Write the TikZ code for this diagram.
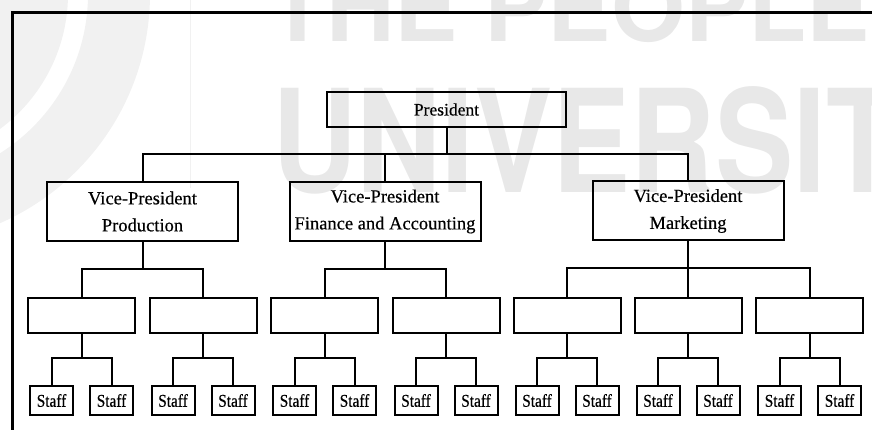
\documentclass[tikz,border=0pt]{standalone}
\usepackage{fontspec}
\setmainfont[FakeBold=0.5]{Liberation Serif}
\newfontfamily\stafffont[FakeStretch=0.85,FakeBold=0.5]{Liberation Serif}
\newfontfamily\wmfont{TeX Gyre Heros}
\definecolor{wmgray}{HTML}{E8E8E8}
\tikzset{
  box/.style={draw, line width=2pt, inner sep=0pt, align=center},
  topbox/.style={box, minimum width=239pt, minimum height=35pt,
    font=\fontsize{17.5}{21}\selectfont},
  vpbox/.style={box, minimum width=191pt, minimum height=59pt,
    font=\fontsize{18.5}{27}\selectfont},
  midbox/.style={box, minimum width=107pt, minimum height=35pt},
  staffbox/.style={box, minimum width=43pt, minimum height=29pt,
    font=\stafffont\fontsize{18}{20}\selectfont},
  link/.style={line width=2pt},
  frame/.style={line width=3pt},
  wmtext/.style={text=wmgray, inner sep=0pt, anchor=base west},
}
\begin{document}
\begin{tikzpicture}[x=1pt,y=-1pt]
\useasboundingbox (0,0) rectangle (872,430);

% background watermark: logo rings, rule and lettering
\begin{scope}
  \clip (0,0) rectangle (872,430);
  \fill[wmgray!60] (-100,-6) circle (168);
  \fill[wmgray!60, even odd rule] (-100,-6) circle (250) (-100,-6) circle (188);
  \draw[wmgray!80!black!20, line width=0.6pt] (190,0) -- (190,188);
  \node[wmtext, font=\wmfont\bfseries\fontsize{95}{95}\selectfont]
    (wmtop) at (268,42) {THE PEOPLE'S};
  \node[wmtext, font=\wmfont\bfseries\fontsize{143}{143}\selectfont]
    (wmbottom) at (272,193) {\scalebox{0.82}[1]{UNIVERSITY}};
\end{scope}

% frame
\draw[frame] (12,432) -- (12,13) -- (874,13);

% top of the hierarchy
\node[topbox] (pres) at (446.5,109.5) {President};
\node[vpbox] (vp1) at (142.5,211.5) {Vice-President\\Production};
\node[vpbox] (vp2) at (385,211.5) {Vice-President\\Finance and Accounting};
\node[vpbox] (vp3) at (688,211) {Vice-President\\Marketing};

\foreach \v in {vp1,vp2,vp3}
  \draw[link] (pres.south) -- ++(0,26) -| (\v.north);

% middle managers with their staff
\foreach \i/\cx in {1/81.5,2/203,3/324.5,4/446,5/567,6/688,7/809.5} {
  \node[midbox] (m\i) at (\cx,315) {};
  \node[staffbox] (sa\i) at ({\cx-30},400.5) {Staff};
  \node[staffbox] (sb\i) at ({\cx+30},400.5) {Staff};
  \draw[link] (m\i.south) -- ++(0,24.5) -| (sa\i.north);
  \draw[link] (m\i.south) -- ++(0,24.5) -| (sb\i.north);
}

\foreach \p/\c in {vp1/m1,vp1/m2,vp2/m3,vp2/m4,vp3/m5,vp3/m6,vp3/m7}
  \draw[link] (\p.south) -- ++(0,26.5) -| (\c.north);
\end{tikzpicture}
\end{document}
